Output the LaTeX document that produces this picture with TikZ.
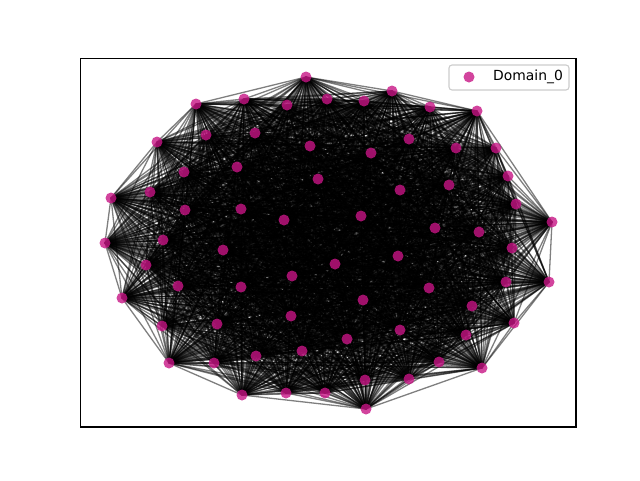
\documentclass[tikz,border=0pt]{standalone}
\usepackage{fontspec}
\setmainfont{DejaVu Sans}
\definecolor{nodecol}{HTML}{C71585}
\tikzset{
  edge/.style={draw=black, draw opacity=0.5, line width=1.3pt},
  dot/.style={circle, fill=nodecol, fill opacity=0.8, inner sep=0pt, minimum size=11pt},
  frame/.style={draw=black, line width=1.1pt},
  legendbox/.style={draw=black!20, fill=white, fill opacity=0.8, rounded corners=3pt, line width=1.1pt}
}
\begin{document}
\begin{tikzpicture}[x=1pt,y=-1pt]
\useasboundingbox (0,0) rectangle (640,480);
\foreach \x/\y [count=\i] in {306/77,244/99,196/104,287/105,327/99,364/101,392/91,430/107,477/111,206/135,255/133,310/146,371/153,409/139,456/148,496/148,157/142,237/167,184/172,318/179,400/190,449/185,508/176,150/192,111/198,185/210,241/209,284/220,361/216,516/204,435/228,479/232,552/222,105/243,163/240,223/250,398/256,512/248,146/265,292/276,335/264,178/286,241/287,429/288,506/282,549/282,122/298,363/300,472/306,162/326,217/324,291/316,400/330,466/335,514/323,347/339,302/351,256/356,439/362,169/363,214/363,409/379,365/380,482/368,325/393,286/393,242/395,366/409}
  {\coordinate (c\i) at (\x,\y);}
\foreach \i in {1,...,68}{
  \foreach \j in {\i,...,68}{
    \ifnum\j>\i \draw[edge] (c\i) -- (c\j); \fi
  }
}
\foreach \i in {1,...,68}{ \node[dot] (v\i) at (c\i) {}; }
\draw[frame] (80.5,58.5) rectangle (576,427);
\node[legendbox, minimum width=120pt, minimum height=25pt] (legend) at (509,77.5) {};
\node[dot] (legmark) at (469,77) {};
\node[anchor=west, inner sep=0pt, font=\fontsize{13.9}{16}\selectfont] (legtext) at (493,77) {Domain\_0};
\end{tikzpicture}
\end{document}
